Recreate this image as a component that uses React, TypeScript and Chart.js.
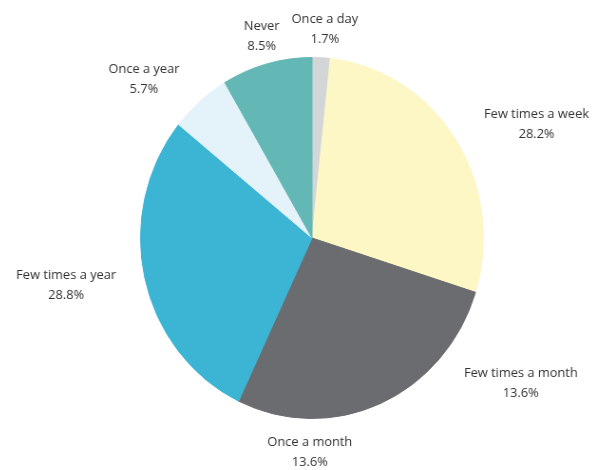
import { useEffect, useRef } from "react";
import { Chart, registerables } from "chart.js";

Chart.register(...registerables);

const categories = [
  "Once a day",
  "Few times a week",
  "Few times a month",
  "Once a month",
  "Few times a year",
  "Once a year",
  "Never",
];
const shares = [1.7, 28.2, 13.6, 13.6, 28.8, 5.7, 8.5];
const shareLabels = ["1.7%", "28.2%", "13.6%", "13.6%", "28.8%", "5.7%", "8.5%"];
const sliceColors = [
  "#d3d6d7",
  "#fdf7c6",
  "#6b6c70",
  "#6b6c70",
  "#3cb4d3",
  "#e4f2f9",
  "#63b7b5",
];
// manual nudges of the outside labels (page pixels), layout only
const labelNudges = [
  [2, 5],
  [26, 23],
  [32, -22],
  [1, 1],
  [-16, -8],
  [-24, 17],
  [4, 7],
];

const FONT = "13.5px 'Open Sans'";
const X_SQUASH = 0.95;

const outsideLabels = {
  id: "outsideLabels",
  afterDatasetsDraw(chart: any) {
    const ctx = chart.ctx;
    const meta = chart.getDatasetMeta(0);
    ctx.save();
    ctx.font = FONT;
    ctx.fillStyle = "#333333";
    ctx.textAlign = "center";
    ctx.textBaseline = "middle";
    meta.data.forEach((arc: any, i: number) => {
      const p = arc.getProps(["x", "y", "startAngle", "endAngle", "outerRadius"], true);
      const mid = (p.startAngle + p.endAngle) / 2;
      const ux = Math.cos(mid);
      const uy = Math.sin(mid);
      const w = Math.max(
        ctx.measureText(categories[i]).width,
        ctx.measureText(shareLabels[i]).width
      );
      const ext = Math.abs(ux) * (w / 2) + Math.abs(uy) * 20;
      const d = p.outerRadius + 12 + ext;
      const lx = p.x + ux * d + labelNudges[i][0] / X_SQUASH;
      const ly = p.y + uy * d + labelNudges[i][1];
      ctx.fillText(categories[i], lx, ly - 10);
      ctx.fillText(shareLabels[i], lx, ly + 10);
    });
    ctx.restore();
  },
};

export default function App() {
  const ref = useRef<HTMLCanvasElement | null>(null);
  useEffect(() => {
    if (!ref.current) return;
    const chart = new Chart(ref.current, {
      type: "pie",
      data: {
        labels: categories,
        datasets: [
          {
            data: shares,
            backgroundColor: sliceColors,
            borderColor: sliceColors,
            borderWidth: 1,
          },
        ],
      },
      options: {
        animation: false,
        responsive: false,
        layout: { padding: { top: 57, bottom: 51, left: 131, right: 112 } },
        plugins: {
          legend: { display: false },
          tooltip: { enabled: false },
        },
      },
      plugins: [outsideLabels],
    });
    return () => chart.destroy();
  }, []);
  return (
    <div
      style={{
        position: "fixed",
        left: 0,
        top: 0,
        width: 605,
        height: 470,
        background: "#ffffff",
        transform: `scaleX(${X_SQUASH})`,
        transformOrigin: "312px 0px",
      }}
    >
      <canvas ref={ref} width={605} height={470} />
    </div>
  );
}
